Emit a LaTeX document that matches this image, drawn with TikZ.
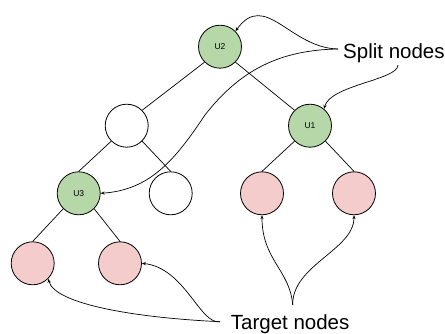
\documentclass[tikz,border=0pt]{standalone}
\usepackage{fontspec}
\setmainfont{Liberation Sans}
\usetikzlibrary{arrows.meta}
\definecolor{gfill}{HTML}{B6D7A8}
\definecolor{pfill}{HTML}{F4CCCC}
\begin{document}
\begin{tikzpicture}[x=1pt,y=-1pt,
  tn/.style={circle,draw=black,line width=0.8pt,minimum size=43pt,inner sep=0pt,font=\fontsize{8.5}{10}\selectfont},
  green/.style={tn,fill=gfill},
  pink/.style={tn,fill=pfill},
  blank/.style={tn,fill=white},
  edge/.style={line width=0.7pt},
  pointer/.style={line width=0.7pt,-{Stealth[length=4pt,width=3.2pt]}},
  lbl/.style={font=\fontsize{20.5}{24}\selectfont,inner sep=0pt}]
\useasboundingbox (0,0) rectangle (445,334);
\node[green] (u2) at (220,46.7) {U2};
\node[blank] (e1) at (126.7,125.7) {};
\node[green] (u1) at (310,125.7) {U1};
\node[green] (u3) at (78.7,193.3) {U3};
\node[blank] (e2) at (170.7,193.3) {};
\node[pink] (p1) at (262,193.3) {};
\node[pink] (p2) at (354,193.3) {};
\node[pink] (b1) at (32.7,263.3) {};
\node[pink] (b2) at (120,263.3) {};
\draw[edge] (u2.-135) -- (e1.45);
\draw[edge] (u2.-45) -- (u1.135);
\draw[edge] (e1.-135) -- (u3.north);
\draw[edge] (e1.-45) -- (e2.north);
\draw[edge] (u1.-135) -- (p1.north);
\draw[edge] (u1.-45) -- (p2.north);
\draw[edge] (u3.-135) -- (b1.north);
\draw[edge] (u3.-45) -- (b2.north);
\node[lbl,anchor=base west] (split) at (343,58.3) {Split nodes};
\node[lbl,anchor=base west] (target) at (230.7,329.3) {Target nodes};
\coordinate (s1) at (338,49);
\coordinate (s2) at (398,65);
\coordinate (t1) at (220,321.7);
\coordinate (t2) at (292.7,305);
\draw[pointer] (s1) .. controls (290,48) and (265,-10) .. (u2.45);
\draw[pointer] (s1) .. controls (280,50) and (240,70) .. (205,115) .. controls (175,160) and (150,190) .. (u3.east);
\draw[pointer] (s2) .. controls (398,80) and (330,85) .. (u1.50);
\draw[pointer] (t1) .. controls (140,318) and (55,305) .. (b1.-45);
\draw[pointer] (t1) .. controls (200,325) and (185,268) .. (b2.east);
\draw[pointer] (t2) .. controls (290,270) and (262,260) .. (p1.south);
\draw[pointer] (t2) .. controls (292,265) and (354,250) .. (p2.south);
\end{tikzpicture}
\end{document}
